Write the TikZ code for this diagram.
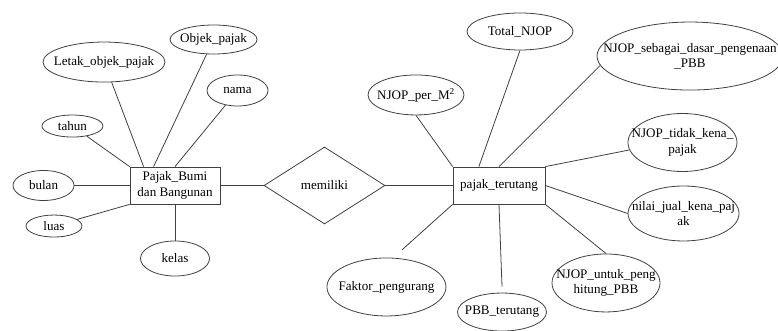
\documentclass[tikz,border=0pt]{standalone}
\usepackage{fontspec}
\setmainfont{Liberation Serif}
\usetikzlibrary{shapes.geometric}

\begin{document}
\begin{tikzpicture}[
  font=\fontsize{9.8}{11.5}\selectfont,
  line width=0.6pt
]
	\tikzstyle{entity} = [rectangle, draw=black!75, minimum height=27.75pt, align=center, inner sep=2pt]
	\tikzstyle{relation} = [diamond, draw=black!75, minimum width=90.75pt, minimum height=57.75pt, aspect=1.6, inner sep=0pt]
	\tikzstyle{attribute} = [ellipse, draw=black!75, align=center, inner xsep=-30pt, inner ysep=0pt]
	\tikzstyle{link} = [draw=black!75]

	\useasboundingbox (0,0) rectangle (583.5pt,-248.25pt);

	\node (pajakBumi) [entity, minimum width=67.5pt] at (131.25pt,-139.125pt) {Pajak\_Bumi\\dan Bangunan};
	\node (memiliki) [relation, right of=pajakBumi, node distance=112.125pt] {memiliki};
	\node (pajakTerutang) [entity, minimum width=69pt, right of=memiliki, node distance=130.875pt] {pajak\_terutang};

	% atribut Pajak_Bumi
	\node (bulan) [attribute, minimum width=45.75pt, minimum height=22.5pt, left of=pajakBumi, node distance=98.6pt] {bulan};
	\node (luas) [attribute, minimum width=42pt, minimum height=16.5pt, left of=pajakBumi, node distance=90.75pt, yshift=-30.4pt] {luas};
	\node (tahun) [attribute, minimum width=45.75pt, minimum height=16.5pt, above of=pajakBumi, node distance=44.6pt, xshift=-76.9pt] {tahun};
	\node (letakObjek) [attribute, minimum width=91.5pt, minimum height=30pt, above of=pajakBumi, node distance=92.6pt, xshift=-53.25pt] {Letak\_objek\_pajak};
	\node (objekPajak) [attribute, minimum width=65.25pt, minimum height=21.75pt, above of=pajakBumi, node distance=109.5pt, xshift=28.9pt] {Objek\_pajak};
	\node (nama) [attribute, minimum width=45.75pt, minimum height=23.25pt, above of=pajakBumi, node distance=71.25pt, xshift=46.9pt] {nama};
	\node (kelas) [attribute, minimum width=51.75pt, minimum height=26.25pt, below of=pajakBumi, node distance=54.75pt] {kelas};

	% atribut pajak_terutang
	\node (njopPerMeter) [attribute, minimum width=72pt, minimum height=30pt, above of=pajakTerutang, node distance=67.9pt, xshift=-62.25pt] {NJOP\_per\_M\textsuperscript{2}};
	\node (totalNjop) [attribute, minimum width=79.5pt, minimum height=27.75pt, above of=pajakTerutang, node distance=115.5pt, xshift=15.75pt] {Total\_NJOP};
	\node (njopDasar) [attribute, minimum width=139.5pt, minimum height=51pt, above of=pajakTerutang, node distance=97.1pt, xshift=143.25pt] {NJOP\_sebagai\_dasar\_pengenaan\\\_PBB};
	\node (njopTidakKena) [attribute, minimum width=81.75pt, minimum height=43.5pt, above of=pajakTerutang, node distance=32.25pt, xshift=137.6pt] {NJOP\_tidak\_kena\_\\pajak};
	\node (nilaiJual) [attribute, minimum width=83.25pt, minimum height=41.25pt, below of=pajakTerutang, node distance=21pt, xshift=138.4pt] {nilai\_jual\_kena\_paj\\ak};
	\node (njopUntuk) [attribute, minimum width=81pt, minimum height=43.5pt, below of=pajakTerutang, node distance=73.1pt, xshift=80.25pt] {NJOP\_untuk\_peng\\hitung\_PBB};
	\node (pbbTerutang) [attribute, minimum width=66.75pt, minimum height=28.5pt, below of=pajakTerutang, node distance=94.9pt, xshift=2.25pt] {PBB\_terutang};
	\node (faktor) [attribute, minimum width=89.25pt, minimum height=43.5pt, below of=pajakTerutang, node distance=76.1pt, xshift=-84.4pt] {Faktor\_pengurang};

	\draw[link] (pajakBumi.east) -- (memiliki.west);
	\draw[link] (memiliki.east) -- (pajakTerutang.west);

	\draw[link] (bulan) -- (pajakBumi.west);
	\draw[link] (luas) -- (pajakBumi.south west);
	\draw[link] (tahun) -- (pajakBumi.north west);
	\draw[link] (letakObjek) -- ([xshift=10.5pt]pajakBumi.north west);
	\draw[link] (objekPajak) -- ([xshift=18pt]pajakBumi.north west);
	\draw[link] (nama) -- (pajakBumi.north);
	\draw[link] (kelas) -- (pajakBumi.south);

	\draw[link] (njopPerMeter.south) -- (pajakTerutang.north west);
	\draw[link] (totalNjop.south) -- ([xshift=19.7pt]pajakTerutang.north west);
	\draw[link] (njopDasar.186) -- (pajakTerutang.north);
	\draw[link] (njopTidakKena.188) -- (pajakTerutang.north east);
	\draw[link] (nilaiJual.west) -- (pajakTerutang.east);
	\draw[link] (njopUntuk.north) -- (pajakTerutang.south east);
	\draw[link] ([yshift=4.5pt]pbbTerutang.north) -- (pajakTerutang.south);
	\draw[link] ([xshift=3.6pt,yshift=6pt]faktor.70) -- (pajakTerutang.south west);

\end{tikzpicture}
\end{document}
